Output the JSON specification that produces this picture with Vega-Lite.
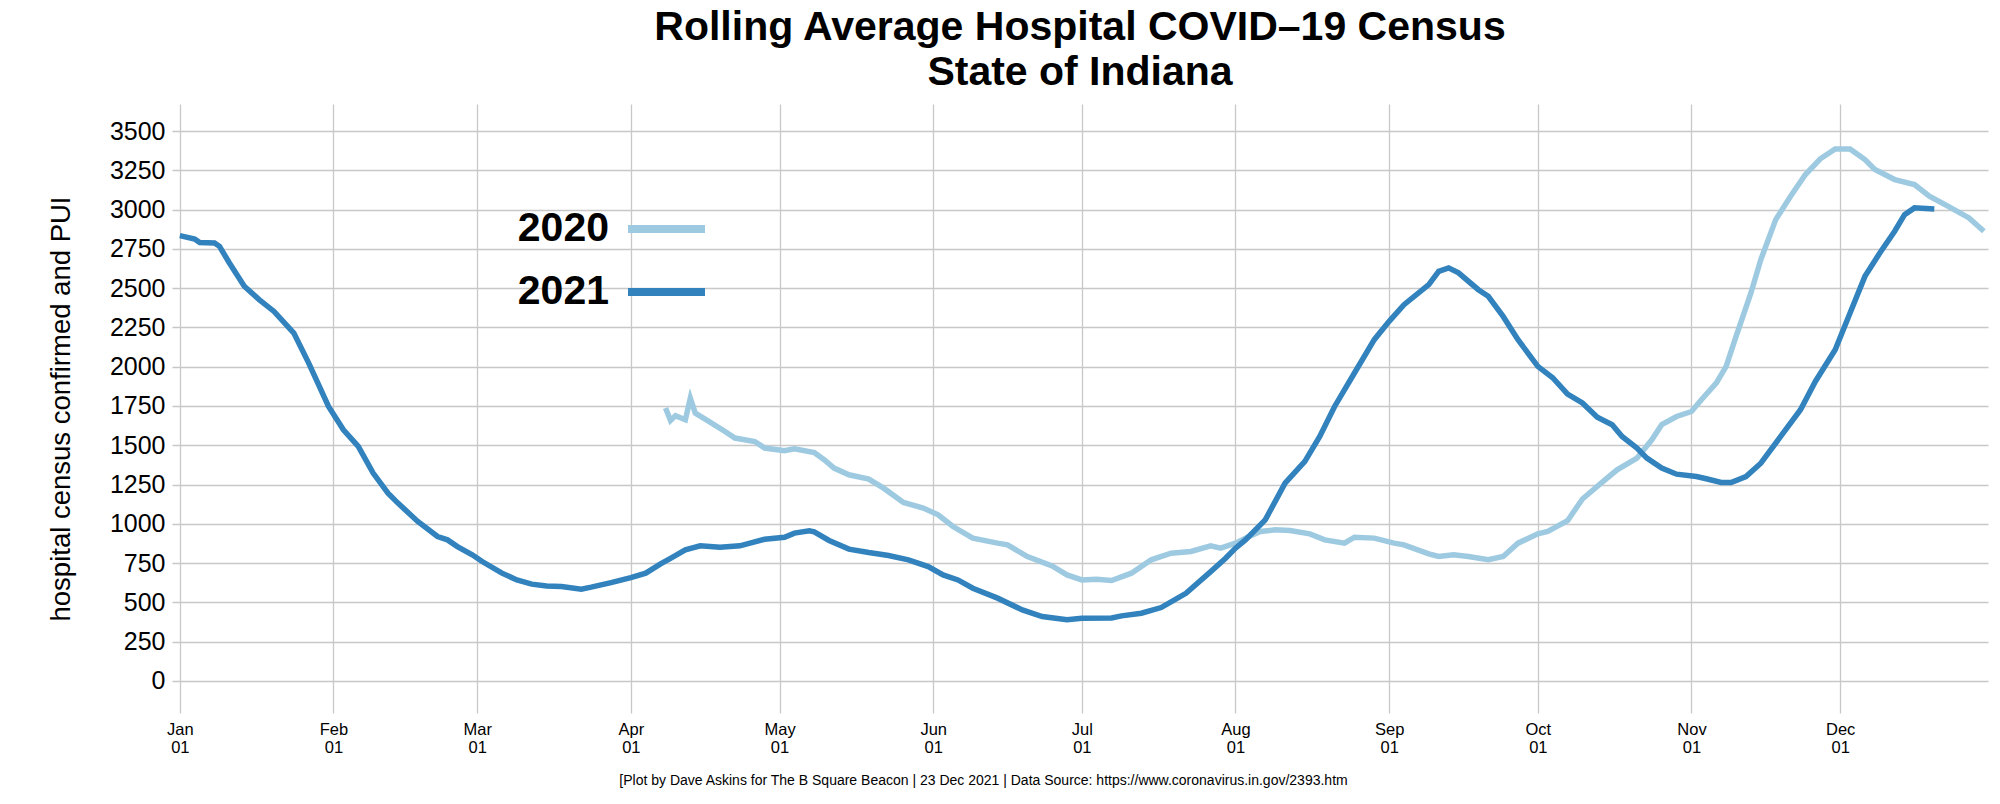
{
  "$schema": "https://vega.github.io/schema/vega-lite/v6.json",
  "width": 1816,
  "height": 609,
  "autosize": {"type": "none"},
  "padding": {"left": 172, "top": 104, "right": 12, "bottom": 91},
  "background": "white",
  "title": {
    "text": ["Rolling Average Hospital COVID–19 Census", "State of Indiana"],
    "fontSize": 41,
    "font": "Liberation Sans",
    "fontWeight": "bold",
    "color": "black",
    "anchor": "middle",
    "lineHeight": 45,
    "offset": 10
  },
  "data": {
    "values": [
      {"year": "2020", "date": "2020-04-08T00:00", "census": 1737},
      {"year": "2020", "date": "2020-04-09T00:00", "census": 1658},
      {"year": "2020", "date": "2020-04-10T00:00", "census": 1688},
      {"year": "2020", "date": "2020-04-12T00:00", "census": 1662},
      {"year": "2020", "date": "2020-04-13T00:00", "census": 1800},
      {"year": "2020", "date": "2020-04-14T00:00", "census": 1705},
      {"year": "2020", "date": "2020-04-16T00:00", "census": 1667},
      {"year": "2020", "date": "2020-04-20T00:00", "census": 1588},
      {"year": "2020", "date": "2020-04-22T00:00", "census": 1546},
      {"year": "2020", "date": "2020-04-26T00:00", "census": 1524},
      {"year": "2020", "date": "2020-04-28T00:00", "census": 1482},
      {"year": "2020", "date": "2020-05-02T00:00", "census": 1465},
      {"year": "2020", "date": "2020-05-04T00:00", "census": 1478},
      {"year": "2020", "date": "2020-05-08T00:00", "census": 1454},
      {"year": "2020", "date": "2020-05-10T00:00", "census": 1408},
      {"year": "2020", "date": "2020-05-12T00:00", "census": 1355},
      {"year": "2020", "date": "2020-05-15T00:00", "census": 1312},
      {"year": "2020", "date": "2020-05-19T00:00", "census": 1285},
      {"year": "2020", "date": "2020-05-22T00:00", "census": 1227},
      {"year": "2020", "date": "2020-05-26T00:00", "census": 1136},
      {"year": "2020", "date": "2020-05-30T00:00", "census": 1100},
      {"year": "2020", "date": "2020-06-02T00:00", "census": 1057},
      {"year": "2020", "date": "2020-06-05T00:00", "census": 983},
      {"year": "2020", "date": "2020-06-09T00:00", "census": 909},
      {"year": "2020", "date": "2020-06-14T00:00", "census": 877},
      {"year": "2020", "date": "2020-06-16T00:00", "census": 866},
      {"year": "2020", "date": "2020-06-20T00:00", "census": 792},
      {"year": "2020", "date": "2020-06-25T00:00", "census": 732},
      {"year": "2020", "date": "2020-06-28T00:00", "census": 675},
      {"year": "2020", "date": "2020-07-01T00:00", "census": 643},
      {"year": "2020", "date": "2020-07-04T00:00", "census": 647},
      {"year": "2020", "date": "2020-07-07T00:00", "census": 639},
      {"year": "2020", "date": "2020-07-11T00:00", "census": 686},
      {"year": "2020", "date": "2020-07-15T00:00", "census": 771},
      {"year": "2020", "date": "2020-07-19T00:00", "census": 813},
      {"year": "2020", "date": "2020-07-23T00:00", "census": 824},
      {"year": "2020", "date": "2020-07-27T00:00", "census": 860},
      {"year": "2020", "date": "2020-07-29T00:00", "census": 845},
      {"year": "2020", "date": "2020-08-01T00:00", "census": 877},
      {"year": "2020", "date": "2020-08-03T00:00", "census": 909},
      {"year": "2020", "date": "2020-08-06T00:00", "census": 951},
      {"year": "2020", "date": "2020-08-09T00:00", "census": 962},
      {"year": "2020", "date": "2020-08-12T00:00", "census": 958},
      {"year": "2020", "date": "2020-08-16T00:00", "census": 936},
      {"year": "2020", "date": "2020-08-19T00:00", "census": 898},
      {"year": "2020", "date": "2020-08-23T00:00", "census": 877},
      {"year": "2020", "date": "2020-08-25T00:00", "census": 915},
      {"year": "2020", "date": "2020-08-29T00:00", "census": 909},
      {"year": "2020", "date": "2020-09-02T00:00", "census": 877},
      {"year": "2020", "date": "2020-09-04T00:00", "census": 866},
      {"year": "2020", "date": "2020-09-09T00:00", "census": 809},
      {"year": "2020", "date": "2020-09-11T00:00", "census": 792},
      {"year": "2020", "date": "2020-09-14T00:00", "census": 803},
      {"year": "2020", "date": "2020-09-17T00:00", "census": 792},
      {"year": "2020", "date": "2020-09-21T00:00", "census": 771},
      {"year": "2020", "date": "2020-09-24T00:00", "census": 792},
      {"year": "2020", "date": "2020-09-27T00:00", "census": 877},
      {"year": "2020", "date": "2020-10-01T00:00", "census": 936},
      {"year": "2020", "date": "2020-10-03T00:00", "census": 951},
      {"year": "2020", "date": "2020-10-07T00:00", "census": 1020},
      {"year": "2020", "date": "2020-10-10T00:00", "census": 1158},
      {"year": "2020", "date": "2020-10-14T00:00", "census": 1265},
      {"year": "2020", "date": "2020-10-17T00:00", "census": 1344},
      {"year": "2020", "date": "2020-10-21T00:00", "census": 1418},
      {"year": "2020", "date": "2020-10-24T00:00", "census": 1535},
      {"year": "2020", "date": "2020-10-26T00:00", "census": 1631},
      {"year": "2020", "date": "2020-10-29T00:00", "census": 1683},
      {"year": "2020", "date": "2020-11-01T00:00", "census": 1715},
      {"year": "2020", "date": "2020-11-03T00:00", "census": 1790},
      {"year": "2020", "date": "2020-11-06T00:00", "census": 1896},
      {"year": "2020", "date": "2020-11-08T00:00", "census": 2002},
      {"year": "2020", "date": "2020-11-10T00:00", "census": 2193},
      {"year": "2020", "date": "2020-11-13T00:00", "census": 2469},
      {"year": "2020", "date": "2020-11-15T00:00", "census": 2682},
      {"year": "2020", "date": "2020-11-18T00:00", "census": 2936},
      {"year": "2020", "date": "2020-11-21T00:00", "census": 3085},
      {"year": "2020", "date": "2020-11-24T00:00", "census": 3223},
      {"year": "2020", "date": "2020-11-27T00:00", "census": 3323},
      {"year": "2020", "date": "2020-11-30T00:00", "census": 3386},
      {"year": "2020", "date": "2020-12-03T00:00", "census": 3386},
      {"year": "2020", "date": "2020-12-06T00:00", "census": 3318},
      {"year": "2020", "date": "2020-12-08T00:00", "census": 3255},
      {"year": "2020", "date": "2020-12-12T00:00", "census": 3191},
      {"year": "2020", "date": "2020-12-16T00:00", "census": 3159},
      {"year": "2020", "date": "2020-12-19T00:00", "census": 3085},
      {"year": "2020", "date": "2020-12-23T00:00", "census": 3017},
      {"year": "2020", "date": "2020-12-27T00:00", "census": 2947},
      {"year": "2020", "date": "2020-12-30T00:00", "census": 2862},
      {"year": "2021", "date": "2020-01-01T00:00", "census": 2834},
      {"year": "2021", "date": "2020-01-04T00:00", "census": 2813},
      {"year": "2021", "date": "2020-01-05T00:00", "census": 2790},
      {"year": "2021", "date": "2020-01-08T00:00", "census": 2788},
      {"year": "2021", "date": "2020-01-09T00:00", "census": 2766},
      {"year": "2021", "date": "2020-01-11T00:00", "census": 2660},
      {"year": "2021", "date": "2020-01-14T00:00", "census": 2512},
      {"year": "2021", "date": "2020-01-17T00:00", "census": 2427},
      {"year": "2021", "date": "2020-01-20T00:00", "census": 2352},
      {"year": "2021", "date": "2020-01-24T00:00", "census": 2214},
      {"year": "2021", "date": "2020-01-27T00:00", "census": 2023},
      {"year": "2021", "date": "2020-01-31T00:00", "census": 1747},
      {"year": "2021", "date": "2020-02-03T00:00", "census": 1599},
      {"year": "2021", "date": "2020-02-06T00:00", "census": 1493},
      {"year": "2021", "date": "2020-02-09T00:00", "census": 1323},
      {"year": "2021", "date": "2020-02-12T00:00", "census": 1195},
      {"year": "2021", "date": "2020-02-14T00:00", "census": 1132},
      {"year": "2021", "date": "2020-02-18T00:00", "census": 1015},
      {"year": "2021", "date": "2020-02-22T00:00", "census": 919},
      {"year": "2021", "date": "2020-02-24T00:00", "census": 898},
      {"year": "2021", "date": "2020-02-26T00:00", "census": 855},
      {"year": "2021", "date": "2020-02-29T00:00", "census": 803},
      {"year": "2021", "date": "2020-03-02T00:00", "census": 760},
      {"year": "2021", "date": "2020-03-06T00:00", "census": 686},
      {"year": "2021", "date": "2020-03-09T00:00", "census": 643},
      {"year": "2021", "date": "2020-03-12T00:00", "census": 616},
      {"year": "2021", "date": "2020-03-15T00:00", "census": 605},
      {"year": "2021", "date": "2020-03-18T00:00", "census": 601},
      {"year": "2021", "date": "2020-03-22T00:00", "census": 584},
      {"year": "2021", "date": "2020-03-24T00:00", "census": 597},
      {"year": "2021", "date": "2020-03-28T00:00", "census": 626},
      {"year": "2021", "date": "2020-04-01T00:00", "census": 658},
      {"year": "2021", "date": "2020-04-04T00:00", "census": 686},
      {"year": "2021", "date": "2020-04-07T00:00", "census": 745},
      {"year": "2021", "date": "2020-04-09T00:00", "census": 780},
      {"year": "2021", "date": "2020-04-12T00:00", "census": 834},
      {"year": "2021", "date": "2020-04-15T00:00", "census": 860},
      {"year": "2021", "date": "2020-04-19T00:00", "census": 851},
      {"year": "2021", "date": "2020-04-23T00:00", "census": 860},
      {"year": "2021", "date": "2020-04-28T00:00", "census": 902},
      {"year": "2021", "date": "2020-05-02T00:00", "census": 915},
      {"year": "2021", "date": "2020-05-04T00:00", "census": 941},
      {"year": "2021", "date": "2020-05-07T00:00", "census": 955},
      {"year": "2021", "date": "2020-05-08T00:00", "census": 949},
      {"year": "2021", "date": "2020-05-11T00:00", "census": 894},
      {"year": "2021", "date": "2020-05-15T00:00", "census": 839},
      {"year": "2021", "date": "2020-05-19T00:00", "census": 817},
      {"year": "2021", "date": "2020-05-23T00:00", "census": 798},
      {"year": "2021", "date": "2020-05-27T00:00", "census": 771},
      {"year": "2021", "date": "2020-05-31T00:00", "census": 728},
      {"year": "2021", "date": "2020-06-03T00:00", "census": 675},
      {"year": "2021", "date": "2020-06-06T00:00", "census": 643},
      {"year": "2021", "date": "2020-06-09T00:00", "census": 590},
      {"year": "2021", "date": "2020-06-14T00:00", "census": 527},
      {"year": "2021", "date": "2020-06-19T00:00", "census": 452},
      {"year": "2021", "date": "2020-06-23T00:00", "census": 410},
      {"year": "2021", "date": "2020-06-28T00:00", "census": 389},
      {"year": "2021", "date": "2020-07-01T00:00", "census": 399},
      {"year": "2021", "date": "2020-07-07T00:00", "census": 401},
      {"year": "2021", "date": "2020-07-09T00:00", "census": 414},
      {"year": "2021", "date": "2020-07-13T00:00", "census": 431},
      {"year": "2021", "date": "2020-07-17T00:00", "census": 467},
      {"year": "2021", "date": "2020-07-22T00:00", "census": 558},
      {"year": "2021", "date": "2020-07-27T00:00", "census": 696},
      {"year": "2021", "date": "2020-07-30T00:00", "census": 781},
      {"year": "2021", "date": "2020-08-01T00:00", "census": 845},
      {"year": "2021", "date": "2020-08-03T00:00", "census": 898},
      {"year": "2021", "date": "2020-08-07T00:00", "census": 1025},
      {"year": "2021", "date": "2020-08-11T00:00", "census": 1259},
      {"year": "2021", "date": "2020-08-15T00:00", "census": 1397},
      {"year": "2021", "date": "2020-08-18T00:00", "census": 1556},
      {"year": "2021", "date": "2020-08-21T00:00", "census": 1747},
      {"year": "2021", "date": "2020-08-25T00:00", "census": 1960},
      {"year": "2021", "date": "2020-08-29T00:00", "census": 2172},
      {"year": "2021", "date": "2020-09-01T00:00", "census": 2289},
      {"year": "2021", "date": "2020-09-04T00:00", "census": 2395},
      {"year": "2021", "date": "2020-09-09T00:00", "census": 2522},
      {"year": "2021", "date": "2020-09-11T00:00", "census": 2607},
      {"year": "2021", "date": "2020-09-13T00:00", "census": 2629},
      {"year": "2021", "date": "2020-09-15T00:00", "census": 2597},
      {"year": "2021", "date": "2020-09-19T00:00", "census": 2490},
      {"year": "2021", "date": "2020-09-21T00:00", "census": 2448},
      {"year": "2021", "date": "2020-09-24T00:00", "census": 2320},
      {"year": "2021", "date": "2020-09-27T00:00", "census": 2172},
      {"year": "2021", "date": "2020-10-01T00:00", "census": 2002},
      {"year": "2021", "date": "2020-10-04T00:00", "census": 1930},
      {"year": "2021", "date": "2020-10-07T00:00", "census": 1825},
      {"year": "2021", "date": "2020-10-10T00:00", "census": 1769},
      {"year": "2021", "date": "2020-10-13T00:00", "census": 1678},
      {"year": "2021", "date": "2020-10-16T00:00", "census": 1631},
      {"year": "2021", "date": "2020-10-18T00:00", "census": 1556},
      {"year": "2021", "date": "2020-10-21T00:00", "census": 1482},
      {"year": "2021", "date": "2020-10-23T00:00", "census": 1418},
      {"year": "2021", "date": "2020-10-26T00:00", "census": 1355},
      {"year": "2021", "date": "2020-10-29T00:00", "census": 1316},
      {"year": "2021", "date": "2020-11-02T00:00", "census": 1301},
      {"year": "2021", "date": "2020-11-04T00:00", "census": 1287},
      {"year": "2021", "date": "2020-11-07T00:00", "census": 1263},
      {"year": "2021", "date": "2020-11-09T00:00", "census": 1263},
      {"year": "2021", "date": "2020-11-12T00:00", "census": 1301},
      {"year": "2021", "date": "2020-11-15T00:00", "census": 1386},
      {"year": "2021", "date": "2020-11-19T00:00", "census": 1556},
      {"year": "2021", "date": "2020-11-23T00:00", "census": 1726},
      {"year": "2021", "date": "2020-11-26T00:00", "census": 1906},
      {"year": "2021", "date": "2020-11-30T00:00", "census": 2108},
      {"year": "2021", "date": "2020-12-03T00:00", "census": 2342},
      {"year": "2021", "date": "2020-12-06T00:00", "census": 2575},
      {"year": "2021", "date": "2020-12-09T00:00", "census": 2724},
      {"year": "2021", "date": "2020-12-12T00:00", "census": 2862},
      {"year": "2021", "date": "2020-12-14T00:00", "census": 2968},
      {"year": "2021", "date": "2020-12-16T00:00", "census": 3011},
      {"year": "2021", "date": "2020-12-20T00:00", "census": 3004}
    ]
  },
  "mark": {"type": "line", "strokeWidth": 5.5, "interpolate": "linear"},
  "encoding": {
    "x": {
      "field": "date",
      "type": "temporal",
      "scale": {
        "domain": [
          {"year": 2019, "month": 12, "date": 30, "hours": 10},
          {"year": 2020, "month": 12, "date": 30, "hours": 20}
        ]
      },
      "axis": {
        "values": [
          {"year": 2020, "month": 1, "date": 1},
          {"year": 2020, "month": 2, "date": 1},
          {"year": 2020, "month": 3, "date": 1},
          {"year": 2020, "month": 4, "date": 1},
          {"year": 2020, "month": 5, "date": 1},
          {"year": 2020, "month": 6, "date": 1},
          {"year": 2020, "month": 7, "date": 1},
          {"year": 2020, "month": 8, "date": 1},
          {"year": 2020, "month": 9, "date": 1},
          {"year": 2020, "month": 10, "date": 1},
          {"year": 2020, "month": 11, "date": 1},
          {"year": 2020, "month": 12, "date": 1}
        ],
        "labelExpr": "[timeFormat(datum.value, '%b'), timeFormat(datum.value, '%d')]",
        "labelFontSize": 16.5,
        "labelLineHeight": 18,
        "labelPadding": 8,
        "labelColor": "black",
        "labelFlush": false,
        "labelOverlap": false,
        "grid": true,
        "gridColor": "#c8c8c8",
        "gridWidth": 1.3,
        "ticks": false,
        "domain": false,
        "title": "[Plot by Dave Askins for The B Square Beacon | 23 Dec 2021 | Data Source: https://www.coronavirus.in.gov/2393.htm",
        "titleFontSize": 14,
        "titleFontWeight": "normal",
        "titleColor": "black",
        "titleX": 811,
        "titleY": 71,
        "titleAlign": "center",
        "titleBaseline": "alphabetic"
      }
    },
    "y": {
      "field": "census",
      "type": "quantitative",
      "scale": {"domain": [-204, 3672], "nice": false, "zero": false},
      "axis": {
        "values": [0, 250, 500, 750, 1000, 1250, 1500, 1750, 2000, 2250, 2500, 2750, 3000, 3250, 3500],
        "format": "d",
        "labelFontSize": 25,
        "labelPadding": 7,
        "labelColor": "black",
        "grid": true,
        "gridColor": "#c8c8c8",
        "gridWidth": 1.3,
        "ticks": false,
        "domain": false,
        "title": "hospital census confirmed and PUI",
        "titleFontSize": 27.5,
        "titleFontWeight": "normal",
        "titleColor": "black",
        "titlePadding": 34
      }
    },
    "color": {
      "field": "year",
      "type": "nominal",
      "scale": {"domain": ["2020", "2021"], "range": ["#9ecae1", "#3182bd"]},
      "legend": {
        "orient": "none",
        "legendX": 452,
        "legendY": 82.5,
        "title": null,
        "symbolType": "stroke",
        "symbolSize": 5929,
        "symbolStrokeWidth": 8,
        "labelFontSize": 41,
        "labelFont": "Liberation Sans",
        "labelFontWeight": "bold",
        "labelColor": "black",
        "labelAlign": "right",
        "labelOffset": -100,
        "rowPadding": -25,
        "padding": 0
      }
    }
  },
  "config": {
    "view": {"stroke": null},
    "font": "Liberation Sans",
    "axis": {"labelFont": "Liberation Sans", "titleFont": "Liberation Sans"}
  }
}
